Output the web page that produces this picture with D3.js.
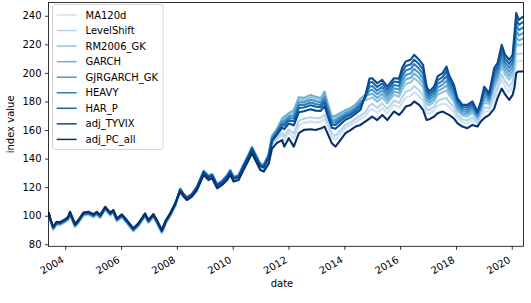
<!DOCTYPE html>
<html><head><meta charset="utf-8">
<script src="https://cdn.jsdelivr.net/npm/d3@7"></script>
<style>body{margin:0;background:#fff} text{font-family:"DejaVu Sans",sans-serif}</style>
</head><body><svg id="c" width="531" height="303"></svg>
<script>
// decimal years of the sampled points
const years = [2003.40,2003.48,2003.57,2003.69,2003.81,2003.99,2004.10,2004.17,2004.35,2004.47,2004.65,2004.83,2005.01,2005.13,2005.25,2005.43,2005.61,2005.72,2005.85,2006.03,2006.20,2006.44,2006.62,2006.86,2006.98,2007.16,2007.28,2007.46,2007.61,2007.76,2007.94,
2008.12,2008.24,2008.36,2008.54,2008.72,2008.96,2009.13,2009.26,2009.44,2009.62,2009.80,2009.91,2010.03,2010.21,2010.39,2010.57,2010.69,2010.81,2010.99,2011.11,2011.29,2011.41,2011.59,2011.77,2011.85,2012.01,2012.19,2012.37,2012.55,2012.79,2012.97,2013.15,2013.29,2013.42,2013.55,2013.68,2013.86,2014.04,2014.22,2014.40,2014.58,
2014.76,
2014.90,2015.00,2015.18,2015.36,2015.54,2015.78,2015.96,2016.08,2016.20,2016.38,2016.50,2016.68,2016.82,2016.95,2017.04,2017.22,2017.34,2017.52,2017.66,2017.75,2017.93,2018.05,2018.23,2018.41,2018.59,2018.77,2018.89,2019.01,2019.19,2019.37,2019.49,2019.64,2019.76,2019.91,2020.03,2020.10,2020.16,2020.25,2020.42];

const MA120d = [102.5,95.9,90,93.5,93.2,95.2,96.7,100.5,91.9,94.7,99.9,100.5,98.7,100.5,98.2,104,99.9,101.7,95.9,98.7,94.7,88.9,92.4,99.4,94.7,98.9,94.7,87.7,94.7,99.4,106.4,
117.3,113.8,111.4,113.8,118.6,129.3,125.7,127,119.9,122.3,125.8,129.4,124.7,125.8,133,139.9,144.8,140,133,132,138,149,153.2,156.3,153,158.2,154,163.3,165,165.9,165.2,165.7,167.8,161.2,154.9,153.2,157.2,161.4,163.4,165.8,167.7,
170.2,
173.6,174.8,172.2,175.5,171.7,177.7,175.7,179.2,182.7,183.9,186.5,183.9,180.4,171.7,171.4,173.7,176.9,178.4,178.1,176.2,172.7,168.3,165.4,164.6,166.9,164.5,168.8,172.7,173.6,180.7,187.2,195.1,190.5,186.7,190.2,197.6,208.2,208.2,208.7];

const LevelShift = [102.5,96,90.3,93.8,93.5,95.5,97,100.8,92.2,95,100.2,100.8,99,100.8,98.5,104.3,100.2,102,96.2,99,95,89.2,92.7,99.7,95,99.2,95,88,95,99.7,106.7,
117.6,114.1,111.7,114.1,118.9,129.7,126.1,127.4,120.3,122.7,126.2,129.8,125.1,126.2,133.5,140.4,145.4,140.6,133.6,132.7,139,150.2,154.5,158.3,155.8,160.4,157.4,166.6,167.9,169,168.2,168.5,171,164,157.3,156,159.7,163.5,165.4,167.9,170,
172.7,
177.2,178.3,175.5,178.7,174.7,180.7,179,183.2,186.8,188,190.8,188,184.5,174.7,173.9,176.4,180.3,181.8,182.4,179.8,175.8,170.6,167.4,166.7,169,165.9,170.6,175.6,175.6,184.3,190.4,199.1,194.1,190.4,193.9,202.5,213.7,213,213.7];

const RM2006_GK = [102.5,96.2,90.6,94.1,93.8,95.8,97.3,101.1,92.5,95.3,100.5,101.1,99.3,101.1,98.8,104.6,100.5,102.3,96.5,99.3,95.3,89.5,93,100,95.3,99.5,95.3,88.3,95.3,100,107,
118.8,115.3,112.9,115.3,120.3,131.4,127.8,129.1,122,124.4,128.3,131.9,127.2,128.3,135.8,142.7,148,143.2,136.2,135.6,143,155.4,160.3,167,167.9,170.6,172.2,181.2,180.9,182.9,181.8,180.8,185.3,176.1,168.1,168.5,170.7,172.9,174.2,176.9,180.7,
180.9,
182,182.9,179.9,182.9,178.7,184.7,183.3,188.5,192.2,193.4,196.4,193.4,189.9,178.7,177.3,180,184.7,186.4,188,184.6,179.8,173.6,170,169.5,171.8,167.7,173,179.3,178.2,189.2,194.6,204.4,198.9,195.2,198.7,209,220.9,219.1,220.3];

const GARCH = [102.5,96.3,90.9,94.4,94.1,96.1,97.6,101.4,92.8,95.6,100.8,101.4,99.6,101.4,99.1,104.9,100.8,102.6,96.8,99.6,95.6,89.8,93.3,100.3,95.6,99.8,95.6,88.6,95.6,100.3,107.3,
118.9,115.4,113,115.4,120.5,131.6,128,129.3,122.2,124.6,128.5,132.1,127.4,128.5,136.1,143,148.3,143.5,136.5,135.9,143.5,156,161,168,169.4,171.8,174,183,182.5,184.6,183.4,182.3,187,177.6,169.4,170,172,174,175.3,178,182,
184.8,
184.8,185.5,182.5,185.3,181,187,185.8,191.6,195.4,196.6,199.6,196.6,193,181,179.2,182,187.2,189.1,191.3,187.4,182.2,175.3,171.5,171.1,173.4,168.8,174.4,181.5,179.7,192,197,207.4,201.6,198,201.5,212.8,225.1,222.7,224.2];

const GJRGARCH_GK = [102.5,96.4,91.1,94.6,94.3,96.3,97.8,101.6,93,95.8,101,101.6,99.8,101.6,99.3,105.1,101,102.8,97,99.8,95.8,90,93.5,100.5,95.8,100,95.8,88.8,95.8,100.5,107.5,
118.6,115.1,112.7,115.1,120.2,131.2,127.6,128.9,121.8,124.2,128,131.6,126.9,128,135.5,142.4,147.7,142.9,135.9,135.2,142.5,154.7,159.6,165.9,166.5,169.4,170.4,179.5,179.4,181.2,180.1,179.3,183.6,174.7,166.8,167,169.3,171.7,173.2,175.8,179.4,
182.8,
187.6,188.2,185.1,187.8,183.4,189.3,188.4,194.7,198.5,199.7,202.9,199.7,196.2,183.4,181.2,184.1,189.8,191.8,194.6,190.2,184.5,177.1,173,172.7,175.1,169.8,175.8,183.7,181.2,194.8,199.5,210.5,204.4,200.8,204.3,216.6,229.3,226.3,228];

const HEAVY = [102.5,96.5,91.3,94.8,94.5,96.5,98,101.8,93.2,96,101.2,101.8,100,101.8,99.5,105.3,101.2,103,97.2,100,96,90.2,93.7,100.7,96,100.2,96,89,96,100.7,107.7,
118.5,115,112.6,115,120,130.9,127.3,128.6,121.5,123.9,127.7,131.3,126.6,127.7,135.2,142.1,147.3,142.5,135.5,134.8,142,154,158.8,164.7,164.8,168,168.4,177.5,177.6,179.3,178.3,177.6,181.6,173,165.3,165.3,167.8,170.4,171.9,174.6,178,
182.8,
190.4,190.9,187.6,190.2,185.7,191.6,190.9,197.8,201.7,202.9,206.2,202.9,199.3,185.7,183.1,186.2,192.4,194.4,197.9,193,186.9,178.8,174.6,174.3,176.7,170.9,177.2,185.9,182.8,197.6,201.9,213.6,207.2,203.6,207.1,220.4,233.6,230,231.9];

const HAR_P = [102.5,96.6,91.6,95.1,94.8,96.8,98.3,102.1,93.5,96.3,101.5,102.1,100.3,102.1,99.8,105.6,101.5,103.3,97.5,100.3,96.3,90.5,94,101,96.3,100.5,96.3,89.3,96.3,101,108,
118.3,114.8,112.4,114.8,119.8,130.7,127.1,128.4,121.3,123.7,127.5,131.1,126.4,127.5,134.9,141.8,147,142.2,135.2,134.4,141.4,153.3,158,163.5,163.1,166.6,166.3,175.4,175.8,177.4,176.4,175.9,179.6,171.3,163.8,163.5,166.3,169.1,170.7,173.3,176.5,
183.8,
193.2,193.6,190.2,192.7,188.1,194,193.5,200.9,204.8,206,209.4,206,202.5,188.1,185.1,188.3,194.9,197.1,201.2,195.8,189.2,180.6,176.1,176,178.4,171.9,178.6,188.1,184.3,200.5,204.4,216.6,209.9,206.4,209.9,224.2,237.8,233.6,235.7];

const adj_TYVIX = [102.5,96.8,91.9,95.4,95.1,97.1,98.6,102.4,93.8,96.6,101.8,102.4,100.6,102.4,100.1,105.9,101.8,103.6,97.8,100.6,96.6,90.8,94.3,101.3,96.6,100.8,96.6,89.6,96.6,101.3,108.3,
118.1,114.6,112.2,114.6,119.5,130.3,126.7,128,120.9,123.3,127,130.6,125.9,127,134.4,141.3,146.4,141.6,134.6,133.8,140.6,152.2,156.8,161.7,160.6,164.5,163.3,172.4,173.1,174.5,173.6,173.4,176.7,168.8,161.6,160.9,164,167.2,168.9,171.5,174.3,
184.8,
196,196.3,192.8,195.1,190.4,196.3,196,204,208,209.2,212.7,209.2,205.6,190.4,187,190.4,197.5,199.8,204.5,198.6,191.6,182.3,177.6,177.6,180,173,180,190.3,185.8,203.3,206.8,219.7,212.7,209.2,212.7,228,242,237.2,239.6];

const adj_PC_all = [102.5,97,92.3,95.8,95.5,97.5,99,102.8,94.2,97,102.2,102.8,101,102.8,100.5,106.3,102.2,104,98.2,101,97,91.2,94.7,101.7,97,101.2,97,90,97,101.7,108.7,
116.9,113.4,111,113.4,118,128.6,125,126.3,119.2,121.6,125,128.6,123.9,125,132.1,139,143.8,139,132,130.9,136.5,147,151,153,148.4,154.3,148.4,157.8,160.1,160.6,160,161,162.4,156.6,150.8,148.4,153,157.8,160,162.4,163.6,
166,
168,169.4,167,170.6,167,173,170.6,173,176.4,177.6,180,177.6,174.1,167,167.5,169.5,171.8,173,171.5,170.6,168,164.8,162.4,161.3,163.6,162.4,166,168.3,170.6,175,182.3,189,185,181.1,184.6,190,199.8,201,201];

const seriesNames = ["MA120d","LevelShift","RM2006_GK","GARCH","GJRGARCH_GK","HEAVY","HAR_P","adj_TYVIX","adj_PC_all"];
const seriesValues = [MA120d,LevelShift,RM2006_GK,GARCH,GJRGARCH_GK,HEAVY,HAR_P,adj_TYVIX,adj_PC_all];
const yTicks = [80,100,120,140,160,180,200,220,240];
const xTickYears = [2004,2006,2008,2010,2012,2014,2016,2018,2020];

const toDate = y => { const Y = Math.floor(y); const s = new Date(Y,0,1), e = new Date(Y+1,0,1); return new Date(+s + (y-Y)*(e-s)); };
const dates = years.map(toDate);

const W = 531, H = 303;
const m = {l:48.5, r:7.5, t:2.5, b:56.7};
const svg = d3.select("#c");
const x = d3.scaleTime().domain([dates[0], dates[dates.length-1]]).range([m.l, W-m.r]);
const y = d3.scaleLinear().domain([78.6, 249.3]).range([H-m.b, m.t]);
const colors = seriesNames.map((d,i) => d3.interpolateBlues(0.2 + 0.1*i));

const line = d3.line().defined(d => d[1] != null && !isNaN(d[1])).x(d => x(d[0])).y(d => y(d[1]));
svg.append("defs").append("clipPath").attr("id","clip").append("rect")
  .attr("x",m.l).attr("y",m.t).attr("width",W-m.l-m.r).attr("height",H-m.t-m.b);
const g = svg.append("g").attr("clip-path","url(#clip)");
seriesValues.forEach((vals,i) => {
  g.append("path").datum(dates.map((d,j) => [d, vals[j]]))
    .attr("d", line).attr("fill","none").attr("stroke", colors[i])
    .attr("stroke-width", 2.1).attr("stroke-linejoin","round");
});

// axes
const fs = 10;
const ya = svg.append("g").attr("transform",`translate(${m.l},0)`)
  .call(d3.axisLeft(y).tickValues(yTicks).tickSize(3.5).tickPadding(3.5));
ya.select(".domain").remove();
ya.selectAll("line").attr("stroke","#000").attr("stroke-width",0.8);
ya.selectAll("text").attr("font-size",fs).attr("fill","#000").attr("font-family","DejaVu Sans");

const xa = svg.append("g").attr("transform",`translate(0,${H-m.b})`)
  .call(d3.axisBottom(x).tickValues(xTickYears.map(v => new Date(v,0,1))).tickFormat(d3.timeFormat("%Y")).tickSize(3.5));
xa.select(".domain").remove();
xa.selectAll("line").attr("stroke","#000").attr("stroke-width",0.8);
xa.selectAll("text").attr("font-size",fs).attr("fill","#000").attr("font-family","DejaVu Sans")
  .attr("text-anchor","end").attr("y",0).attr("dy",0)
  .attr("transform","translate(-1,15.5) rotate(-30)");

svg.append("rect").attr("x",m.l).attr("y",m.t).attr("width",W-m.l-m.r).attr("height",H-m.t-m.b)
  .attr("fill","none").attr("stroke","#000").attr("stroke-width",0.8);

svg.append("text").attr("x",282).attr("y",287).attr("text-anchor","middle")
  .attr("font-size",fs).text("date");
svg.append("text").attr("transform",`translate(14,${(m.t + H - m.b)/2}) rotate(-90)`)
  .attr("text-anchor","middle").attr("font-size",fs).text("index value");

// legend
const lg = svg.append("g");
lg.append("rect").attr("x",52.5).attr("y",4.5).attr("width",110.5).attr("height",145).attr("rx",2.5)
  .attr("fill","#fff").attr("fill-opacity",0.8).attr("stroke","#cccccc").attr("stroke-width",0.8);
seriesNames.forEach((n,i) => {
  const yy = 15 + i*15.55;
  lg.append("line").attr("x1",56.7).attr("x2",76.7).attr("y1",yy).attr("y2",yy)
    .attr("stroke",colors[i]).attr("stroke-width",1.5);
  lg.append("text").attr("x",85.5).attr("y",yy).attr("dy","0.36em").attr("font-size",fs).text(n);
});
</script></body></html>
